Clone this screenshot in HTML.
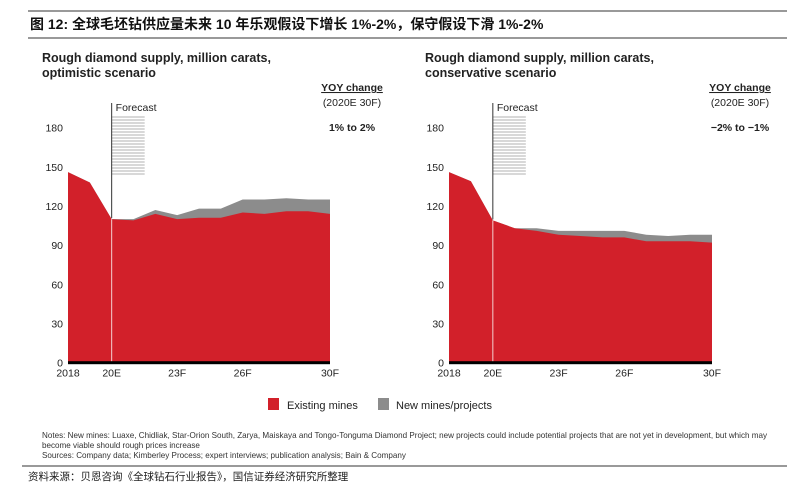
<!DOCTYPE html>
<html><head><meta charset="utf-8"><style>
body{margin:0;background:#fff;}
svg text{font-family:"Liberation Sans","Noto Sans CJK SC",sans-serif;}
</style></head><body>
<svg width="787" height="492" viewBox="0 0 787 492" xmlns="http://www.w3.org/2000/svg" id="root">
<line x1="28" y1="11" x2="787" y2="11" stroke="#333" stroke-width="1"/>
<text x="30" y="29" font-size="14" font-weight="bold" fill="#111">图 12: 全球毛坯钻供应量未来 10 年乐观假设下增长 1%-2%，保守假设下滑 1%-2%</text>
<line x1="28" y1="38" x2="787" y2="38" stroke="#333" stroke-width="1"/>
<g id="charts"></g>
<g>
<rect x="268" y="398" width="11" height="12" fill="#d2202a"/>
<text x="287" y="409" font-size="11" fill="#222">Existing mines</text>
<rect x="378" y="398" width="11" height="12" fill="#8c8c8c"/>
<text x="396" y="409" font-size="11" fill="#222">New mines/projects</text>
</g>
<text x="42" y="438" font-size="8.1" fill="#333">Notes: New mines: Luaxe, Chidliak, Star-Orion South, Zarya, Maiskaya and Tongo-Tonguma Diamond Project; new projects could include potential projects that are not yet in development, but which may</text>
<text x="42" y="448" font-size="8.1" fill="#333">become viable should rough prices increase</text>
<text x="42" y="458" font-size="8.1" fill="#333">Sources: Company data; Kimberley Process; expert interviews; publication analysis; Bain &amp; Company</text>
<line x1="22" y1="466" x2="787" y2="466" stroke="#333" stroke-width="1"/>
<text x="28" y="480" font-size="10.5" fill="#222" font-family="'Noto Serif CJK SC',serif">资料来源：贝恩咨询《全球钻石行业报告》，国信证券经济研究所整理</text>
</svg>
<script>
const years=[2018,2019,2020,2021,2022,2023,2024,2025,2026,2027,2028,2029,2030];
const xTickLabels=["2018","20E","23F","26F","30F"];
const xTickYears=[2018,2020,2023,2026,2030];
const yTicks=[0,30,60,90,120,150,180];
const optExisting=[146,138,110,109,114,110,111,111,115,114,116,116,114];
const optTotal=[146,138,110,110,117,113,118,118,125,125,126,125,125];
const conExisting=[146,139,109,103,101,98,97,96,96,93,93,93,92];
const conTotal=[146,139,109,103,103,101,101,101,101,98,97,98,98];
const NS="http://www.w3.org/2000/svg";
const root=document.getElementById('charts');
function mk(tag,attrs,parent){const e=document.createElementNS(NS,tag);for(const k in attrs)e.setAttribute(k,attrs[k]);parent.appendChild(e);return e;}
function chart(cfg){
 const g=mk('g',{},root);
 
 
 const x0=cfg.x0,x1=cfg.x1,yb=362.7,ytop=127.7;
 const xs=y=>x0+(y-years[0])/(years[years.length-1]-years[0])*(x1-x0);
 const ys=v=>yb-v/180*(yb-ytop);
 const t1=mk('text',{x:cfg.tx,y:62,'font-size':12.5,'font-weight':'bold',fill:'#222'},g);t1.textContent='Rough diamond supply, million carats,';
 
 
 const t2=mk('text',{x:cfg.tx,y:77,'font-size':12.5,'font-weight':'bold',fill:'#222'},g);t2.textContent=cfg.sub;
 
 
 const yo=mk('text',{x:cfg.yoyX,y:91,'font-size':10.5,'font-weight':'bold',fill:'#222','text-anchor':'middle','text-decoration':'underline'},g);yo.textContent='YOY change';
 
 
 const yp=mk('text',{x:cfg.yoyX,y:106,'font-size':10.5,fill:'#222','text-anchor':'middle'},g);yp.textContent='(2020E  30F)';
 
 
 const yv=mk('text',{x:cfg.yoyX,y:131,'font-size':10.5,'font-weight':'bold',fill:'#222','text-anchor':'middle'},g);yv.textContent=cfg.yoy;
 
 
 yTicks.forEach(v=>{const t=mk('text',{x:x0-5,y:ys(v)+4,'font-size':10.5,fill:'#222','text-anchor':'end'},g);t.textContent=v;
  
  });
 let p='M'+xs(years[0])+','+yb;years.forEach((y,i)=>p+=' L'+xs(y)+','+ys(cfg.total[i]));p+=' L'+xs(years[years.length-1])+','+yb+'Z';
 const a1=mk('path',{d:p,fill:'#8c8c8c'},g);
 
 
 p='M'+xs(years[0])+','+yb;years.forEach((y,i)=>p+=' L'+xs(y)+','+ys(cfg.existing[i]));p+=' L'+xs(years[years.length-1])+','+yb+'Z';
 const a2=mk('path',{d:p,fill:'#d2202a'},g);
 
 
 const fx=xs(2020);
 const hg=mk('g',{},g);
 
 
 for(let yy=117;yy<=176;yy+=3){mk('line',{x1:fx,y1:yy,x2:fx+33,y2:yy,stroke:'#999','stroke-width':0.7},hg);}
 const fl=mk('line',{x1:fx,y1:103,x2:fx,y2:ys(cfg.total[2])-1,stroke:'#333','stroke-width':1},g);
 
 
 const fl2=mk('line',{x1:fx,y1:ys(cfg.total[2]),x2:fx,y2:yb,stroke:'#f4d0d0','stroke-width':1},g);
 
 
 const ft=mk('text',{x:fx+4,y:111,'font-size':10.5,fill:'#222'},g);ft.textContent='Forecast';
 
 
 const ax=mk('rect',{x:x0,y:yb-1.5,width:x1-x0,height:3,fill:'#000'},g);
 
 
 xTickYears.forEach((y,i)=>{const t=mk('text',{x:xs(y),y:yb+14,'font-size':10.5,fill:'#222','text-anchor':'middle'},g);t.textContent=xTickLabels[i];
  
  });
}
chart({name:'optimistic-chart',x0:68,x1:330,tx:42,sub:'optimistic scenario',yoyX:352,yoy:'1% to 2%',existing:optExisting,total:optTotal});
chart({name:'conservative-chart',x0:449,x1:712,tx:425,sub:'conservative scenario',yoyX:740,yoy:'\u22122% to \u22121%',existing:conExisting,total:conTotal});
</script>
</body></html>
